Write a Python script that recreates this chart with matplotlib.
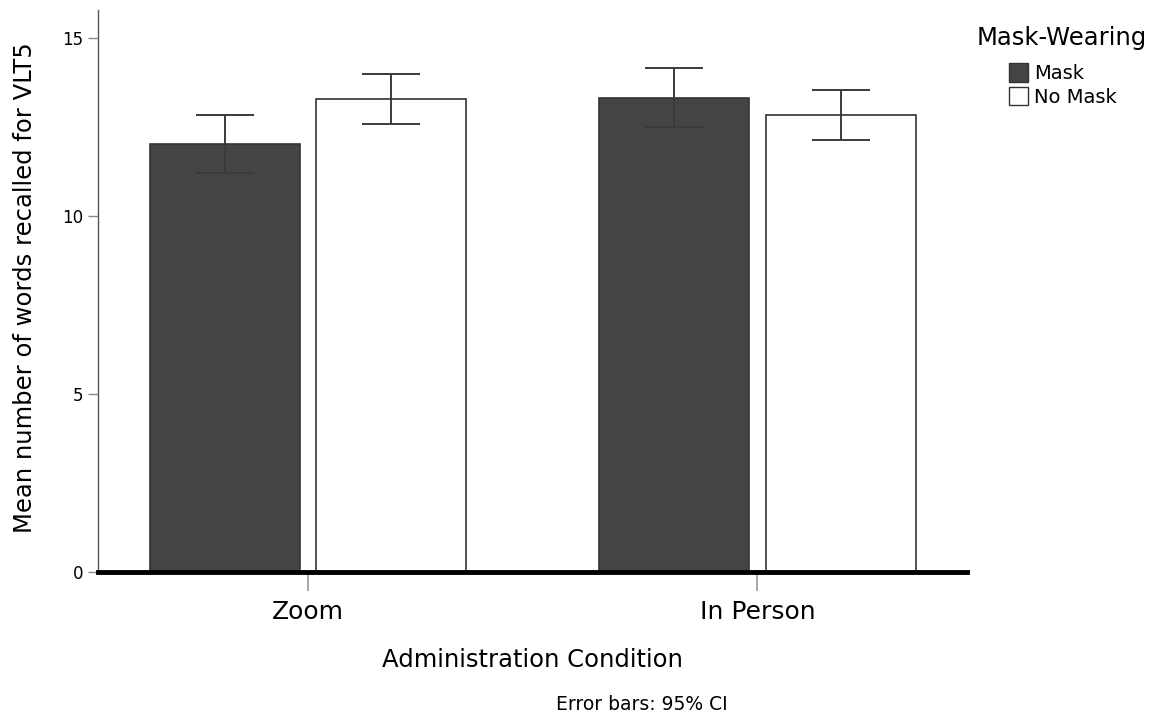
import numpy as np
import matplotlib
matplotlib.use("Agg")
from matplotlib import pyplot as plt
from matplotlib.patches import Patch

plt.rcParams['font.family'] = ['DejaVu Sans']

conditions = ['Zoom', 'In Person']
groups = ['Mask', 'No Mask']
means = {'Mask': [12.03, 13.32], 'No Mask': [13.29, 12.84]}
ci_low = {'Mask': [11.21, 12.50], 'No Mask': [12.59, 12.14]}
ci_high = {'Mask': [12.84, 14.16], 'No Mask': [13.99, 13.54]}
colors = {'Mask': '#444444', 'No Mask': '#ffffff'}

fig = plt.figure(figsize=(11.56, 7.15), dpi=100)
ax = fig.add_axes([0.0848, 0.2, 0.752, 0.786])

x = np.arange(len(conditions))
width = 0.333
offsets = {'Mask': -0.185, 'No Mask': 0.185}

for g in groups:
    m = np.array(means[g])
    lo = m - np.array(ci_low[g])
    hi = np.array(ci_high[g]) - m
    ax.bar(x + offsets[g], m, width, color=colors[g], edgecolor='#333333', linewidth=1.2, zorder=2)
    ax.errorbar(x + offsets[g], m, yerr=[lo, hi], fmt='none', ecolor='#3a3a3a',
                elinewidth=1.4, capsize=21, capthick=1.4, zorder=3)

ax.set_xlim(-0.4667, 1.4667)
ax.set_ylim(0, 15.79)
ax.set_yticks([0, 5, 10, 15])
ax.set_xticks(x)
ax.set_xticklabels(conditions, fontsize=18)
ax.tick_params(axis='y', labelsize=12, length=7, color='#888888', width=1)
ax.tick_params(axis='x', length=14, color='#999999', width=1.2, pad=6)

for s in ['top', 'right']:
    ax.spines[s].set_visible(False)
ax.spines['left'].set_color('#555555')
ax.spines['left'].set_linewidth(1.0)
ax.spines['bottom'].set_color('black')
ax.spines['bottom'].set_linewidth(3.5)
ax.spines['bottom'].set_zorder(4)

ax.set_ylabel('Mean number of words recalled for VLT5', fontsize=17.5)
ax.yaxis.set_label_coords(-0.070, 0.506)
ax.set_xlabel('Administration Condition', fontsize=17.5)
ax.xaxis.set_label_coords(0.50, -0.136)

fig.text(0.845, 0.947, 'Mask-Wearing', ha='left', va='center', fontsize=17.5)
handles = [Patch(facecolor=colors[g], edgecolor='#333333', label=g) for g in groups]
fig.legend(handles=handles, loc='upper left', bbox_to_anchor=(0.861, 0.931),
           frameon=False, fontsize=14, handlelength=1.0, handleheight=1.1,
           handletextpad=0.3, labelspacing=0.2, borderpad=0.2)

fig.text(0.555, 0.014, 'Error bars: 95% CI', ha='center', va='center', fontsize=13.5)

fig.savefig('out.png', dpi=100)
